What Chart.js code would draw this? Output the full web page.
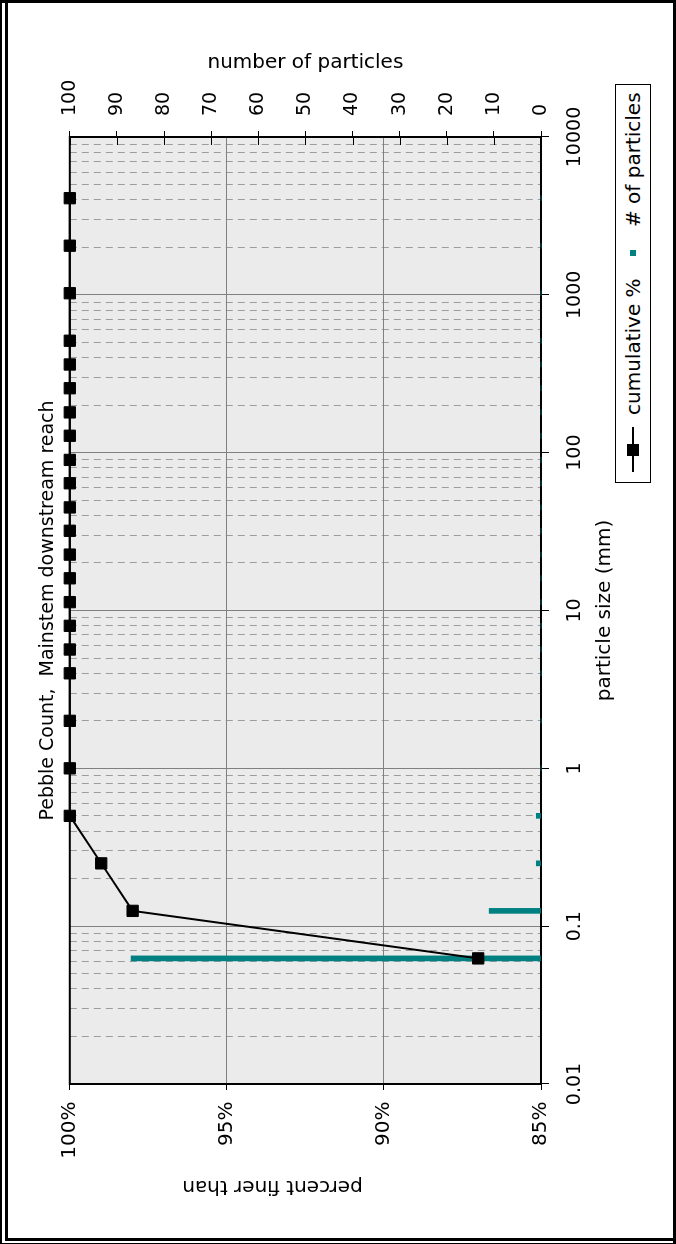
<!DOCTYPE html>
<html>
<head>
<meta charset="utf-8">
<title>Pebble Count, Mainstem downstream reach</title>
<script src="https://cdn.jsdelivr.net/npm/chart.js@4"></script>
<style>
  html, body { margin: 0; padding: 0; background: #fff; }
  body { width: 676px; height: 1244px; position: relative; overflow: hidden; }
  /* the chart is laid out landscape and turned a quarter turn counter-clockwise */
  #turn {
    position: absolute; left: 0; top: 0; width: 1244px; height: 676px;
    transform-origin: 0 0; transform: translate(0, 1244px) rotate(-90deg);
  }
  #turn canvas { position: absolute; left: 0; top: 0; }
  .legend {
    position: absolute; left: 761px; top: 615px; width: 397px; height: 34px;
    border: 1px solid #000; background: #fff;
    font-family: 'DejaVu Sans', sans-serif; font-size: 20px; color: #000;
  }
  .legend .txt { position: absolute; top: 5px; line-height: 24px; white-space: nowrap; }
  .legend .line { position: absolute; left: 10px; top: 16px; width: 45px; height: 2px; background: #000; }
  .legend .sq { position: absolute; left: 26px; top: 11px; width: 12px; height: 12px; background: #000; }
  .legend .teal { position: absolute; left: 226px; top: 14px; width: 6px; height: 6px; background: #008080; }
  #frame {
    position: absolute; left: 0; top: 0; width: 676px; height: 1244px; box-sizing: border-box;
    border-style: solid; border-color: #000; border-width: 3px 3px 1px 2px; pointer-events: none;
  }
  #frame::before { content: ''; position: absolute; left: 3px; top: -3px; bottom: 2px; width: 3px; background: #000; }
  #frame::after { content: ''; position: absolute; left: 3px; right: -3px; bottom: 2px; height: 3px; background: #000; }
</style>
</head>
<body>
<div id="turn">
  <canvas id="pebbles" width="1244" height="676"></canvas>
  <div class="legend">
    <div class="line"></div><div class="sq"></div>
    <span class="txt" style="left:67px">cumulative %</span>
    <div class="teal"></div>
    <span class="txt" style="left:255px"># of particles</span>
  </div>
</div>
<div id="frame"></div>
<script>
// sieve class sizes (mm)
const sizeMm = [0.0625, 0.125, 0.25, 0.5, 1, 2, 4, 5.66, 8, 11.3, 16, 22.6, 32, 45,
                64, 90, 128, 180, 256, 362, 512, 1024, 2048, 4096];
// cumulative percent finer than each size
const cumulativePct = [87, 98, 99, 100, 100, 100, 100, 100, 100, 100, 100, 100, 100, 100,
                       100, 100, 100, 100, 100, 100, 100, 100, 100, 100];
// particles counted in each size class
const particleCount = [87, 11, 1, 1, 0, 0, 0, 0, 0, 0, 0, 0, 0, 0,
                       0, 0, 0, 0, 0, 0, 0, 0, 0, 0];

// labelled decades on the size axis
const sizeDecades = [0.01, 0.1, 1, 10, 100, 1000, 10000];
const minorSteps = [2, 3, 4, 5, 6, 7, 8, 9];
const pctTicks = [85, 90, 95, 100];
const countTicks = [0, 10, 20, 30, 40, 50, 60, 70, 80, 90, 100];

const FONT = "'DejaVu Sans', sans-serif";
const isDecade = v => sizeDecades.includes(v);

// size axis grid: every decade plus its 2..9 subdivisions
function sizeGridValues() {
  const out = [];
  for (let i = 0; i < sizeDecades.length - 1; i++) {
    out.push(sizeDecades[i]);
    minorSteps.forEach(m => out.push(sizeDecades[i] * m));
  }
  out.push(sizeDecades[sizeDecades.length - 1]);
  return out;
}

const plotFrame = {
  id: 'plotFrame',
  afterLayout(chart) {
    // centre the chart title over the plot rather than the whole canvas
    const t = chart.titleBlock;
    if (t) {
      t.left = chart.chartArea.left;
      t.right = chart.chartArea.right;
      t.width = t.right - t.left;
    }
  },
  beforeDraw(chart) {
    const { ctx, chartArea: a } = chart;
    ctx.save();
    ctx.fillStyle = '#ebebeb';
    ctx.fillRect(a.left, a.top, a.right - a.left, a.bottom - a.top);
    ctx.restore();
  },
  beforeDatasetsDraw(chart) {
    const { ctx, chartArea: a } = chart;
    ctx.save();
    ctx.strokeStyle = '#000';
    ctx.lineWidth = 2;
    ctx.strokeRect(a.left, a.top, a.right - a.left, a.bottom - a.top);
    // count axis tick marks also reach into the plot
    const s = chart.scales.y2;
    ctx.lineWidth = 1;
    ctx.beginPath();
    s.ticks.forEach(t => {
      const p = Math.round(s.getPixelForValue(t.value)) + 0.5;
      ctx.moveTo(a.right - 8, p);
      ctx.lineTo(a.right, p);
    });
    ctx.stroke();
    ctx.restore();
  },
  afterDraw(chart) {
    // caption of the percent axis
    const { ctx } = chart;
    ctx.save();
    ctx.translate(58, 272.5);
    ctx.rotate(-Math.PI / 2);
    ctx.fillStyle = '#000';
    ctx.font = '20px ' + FONT;
    ctx.textAlign = 'center';
    ctx.textBaseline = 'middle';
    ctx.fillText('percent finer than', 0, 0);
    ctx.restore();
  }
};

new Chart(document.getElementById('pebbles'), {
  type: 'line',
  data: {
    datasets: [
      {
        type: 'line',
        label: 'cumulative %',
        data: sizeMm.map((s, i) => ({ x: s, y: cumulativePct[i] })),
        yAxisID: 'y',
        borderColor: '#000',
        borderWidth: 2,
        pointStyle: 'rect',
        pointRadius: 8,
        pointBackgroundColor: '#000',
        pointBorderColor: '#000',
        pointBorderWidth: 1,
        tension: 0,
        clip: false,
        order: 0
      },
      {
        type: 'bar',
        label: '# of particles',
        data: sizeMm.map((s, i) => ({ x: s, y: particleCount[i] })),
        yAxisID: 'y2',
        backgroundColor: '#008080',
        barThickness: 5,
        clip: false,
        order: 1
      }
    ]
  },
  options: {
    responsive: false,
    animation: false,
    events: [],
    layout: { padding: { left: 0, right: 0, top: 0, bottom: 58 } },
    plugins: {
      legend: { display: false },
      tooltip: { enabled: false },
      title: {
        display: true,
        text: 'Pebble Count,  Mainstem downstream reach',
        color: '#000',
        font: { family: FONT, size: 19, weight: 'normal' },
        padding: { top: 37, bottom: 10 }
      }
    },
    scales: {
      x: {
        type: 'logarithmic',
        position: 'bottom',
        min: 0.01,
        max: 10000,
        offset: false,
        afterBuildTicks: s => { s.ticks = sizeGridValues().map(v => ({ value: v })); },
        afterFit: s => { s.height = 77; },
        grid: {
          offset: false,
          lineWidth: 1,
          color: c => (c.tick && isDecade(c.tick.value)) ? '#808080' : '#9c9c9c',
          drawTicks: true,
          tickLength: 8,
          tickWidth: 1,
          tickColor: c => (c.tick && isDecade(c.tick.value)) ? '#000' : 'rgba(0,0,0,0)'
        },
        border: {
          display: false,
          dash: c => (c.tick && !isDecade(c.tick.value)) ? [7, 5] : []
        },
        ticks: {
          autoSkip: false,
          minRotation: 0,
          maxRotation: 0,
          padding: 14.5,
          color: '#000',
          font: { family: FONT, size: 19 },
          callback: v => isDecade(v) ? String(v) : ''
        },
        title: {
          display: true,
          text: 'particle size (mm)',
          color: '#000',
          font: { family: FONT, size: 20 },
          padding: { top: 0, bottom: 1 }
        }
      },
      y: {
        type: 'linear',
        position: 'left',
        min: pctTicks[0],
        max: pctTicks[pctTicks.length - 1],
        afterFit: s => { s.width = 160; },
        afterBuildTicks: s => { s.ticks = pctTicks.map(v => ({ value: v })); },
        grid: { color: '#808080', lineWidth: 1, tickLength: 6, tickColor: '#000' },
        border: { display: false },
        ticks: {
          padding: 11.5,
          color: '#000',
          font: { family: FONT, size: 20 },
          callback: v => v + '%'
        }
      },
      y2: {
        type: 'linear',
        position: 'right',
        min: countTicks[0],
        max: countTicks[countTicks.length - 1],
        afterFit: s => { s.width = 137; },
        afterBuildTicks: s => { s.ticks = countTicks.map(v => ({ value: v })); },
        grid: { drawOnChartArea: false, tickLength: 6, tickColor: '#000' },
        border: { display: false },
        ticks: {
          padding: 15,
          color: '#000',
          font: { family: FONT, size: 19 }
        },
        title: {
          display: true,
          text: 'number of particles',
          color: '#000',
          font: { family: FONT, size: 20 },
          padding: { top: 50.8, bottom: 0 }
        }
      }
    }
  },
  plugins: [plotFrame]
});
</script>
</body>
</html>
